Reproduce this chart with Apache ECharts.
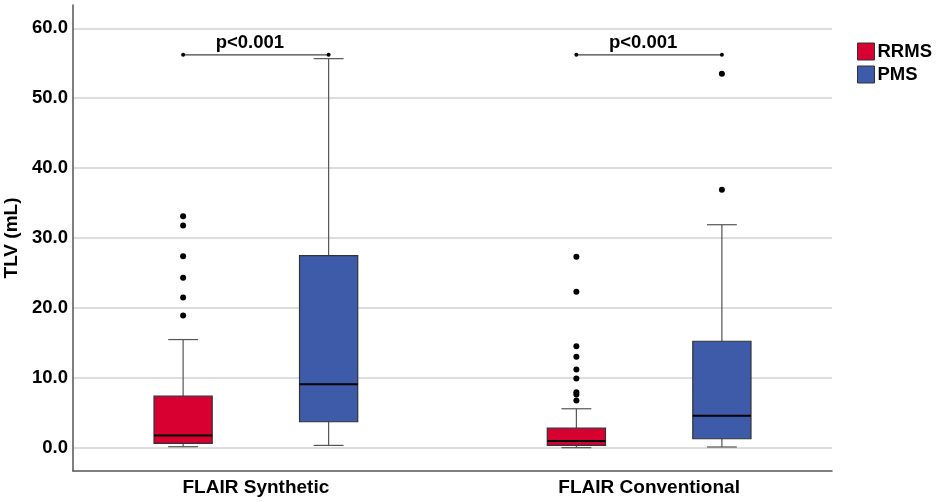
<!DOCTYPE html>
<html>
<head>
<meta charset="utf-8">
<script src="https://cdn.jsdelivr.net/npm/echarts@6/dist/echarts.min.js"></script>
<style>
  html, body { margin: 0; padding: 0; background: #fff; }
  #main { width: 936px; height: 502px; }
</style>
</head>
<body>
<div id="main"></div>
<script>
// categories and groups
var categories = ['FLAIR Synthetic', 'FLAIR Conventional'];
var groups = ['RRMS', 'PMS'];

// box stats per category: [lowerWhisker, q1, median, q3, upperWhisker]
var rrmsBoxes = [
    [0.14, 0.61, 1.76, 7.37, 15.47],
    [0.0, 0.33, 0.95, 2.8, 5.57]
];
var pmsBoxes = [
    [0.33, 3.71, 9.09, 27.47, 55.66],
    [0.1, 1.28, 4.57, 15.23, 31.9]
];

// outliers per category
var rrmsOutliers = [
    [33.1, 31.8, 27.4, 24.3, 21.5, 18.9],
    [27.3, 22.3, 14.5, 13.0, 11.2, 9.9, 7.95, 7.6, 6.76]
];
var pmsOutliers = [
    [],
    [53.5, 36.9]
];

// significance brackets
var bracketY = [56.2, 56.2];
var pLabels = ['p<0.001', 'p<0.001'];

var yTicks = [0, 10, 20, 30, 40, 50, 60];

var colors = { RRMS: '#d70030', PMS: '#3e5ba9' };
var groupOffset = 0.185;   // distance of each group from category centre
var boxWidth = 0.148;
var capWidth = 0.076;

var myChart = echarts.init(document.getElementById('main'));

function boxRenderer(offset, color) {
    return function (params, api) {
        var x = api.value(0) + offset;
        var pLo = api.coord([x, api.value(1)]);
        var pQ1 = api.coord([x, api.value(2)]);
        var pMed = api.coord([x, api.value(3)]);
        var pQ3 = api.coord([x, api.value(4)]);
        var pHi = api.coord([x, api.value(5)]);
        var halfBox = api.size([boxWidth, 0])[0] / 2;
        var halfCap = api.size([capWidth, 0])[0] / 2;
        var cx = pLo[0];
        var whisker = { stroke: '#555', lineWidth: 1.2 };
        return {
            type: 'group',
            children: [
                { type: 'line', shape: { x1: cx, y1: pHi[1], x2: cx, y2: pQ3[1] }, style: whisker },
                { type: 'line', shape: { x1: cx, y1: pQ1[1], x2: cx, y2: pLo[1] }, style: whisker },
                { type: 'line', shape: { x1: cx - halfCap, y1: pHi[1], x2: cx + halfCap, y2: pHi[1] }, style: whisker },
                { type: 'line', shape: { x1: cx - halfCap, y1: pLo[1], x2: cx + halfCap, y2: pLo[1] }, style: whisker },
                {
                    type: 'rect',
                    shape: { x: cx - halfBox, y: pQ3[1], width: halfBox * 2, height: pQ1[1] - pQ3[1] },
                    style: { fill: color, stroke: '#333', lineWidth: 1.2 }
                },
                {
                    type: 'line',
                    shape: { x1: cx - halfBox, y1: pMed[1], x2: cx + halfBox, y2: pMed[1] },
                    style: { stroke: '#000', lineWidth: 2 }
                }
            ]
        };
    };
}

function boxData(boxes) {
    return boxes.map(function (b, i) {
        return [i].concat(b);
    });
}

function outlierData(list, offset) {
    var out = [];
    list.forEach(function (vals, i) {
        vals.forEach(function (v) {
            out.push([i + offset, v]);
        });
    });
    return out;
}

var bracketData = bracketY.map(function (y, i) {
    return [i, y, pLabels[i]];
});

var option = {
    animation: false,
    grid: { left: 73, right: 104, top: 5, bottom: 31, containLabel: false, outerBoundsMode: 'none' },
    legend: {
        orient: 'vertical',
        left: 857,
        top: 42,
        padding: 0,
        itemWidth: 17,
        itemHeight: 17,
        itemGap: 4,
        data: [
            { name: 'RRMS', icon: 'rect' },
            { name: 'PMS', icon: 'rect' }
        ],
        itemStyle: { borderColor: '#333', borderWidth: 1 },
        textStyle: {
            fontFamily: 'Liberation Sans',
            fontWeight: 'bold',
            fontSize: 18.5,
            color: '#000',
            padding: [0, 0, 0, -2]
        }
    },
    xAxis: {
        type: 'value',
        min: -0.465,
        max: 1.465,
        splitLine: { show: false },
        axisTick: { show: false },
        axisLine: { onZero: false, lineStyle: { color: '#555', width: 1.5 } },
        axisLabel: {
            customValues: [0, 1],
            formatter: function (v) { return categories[Math.round(v)]; },
            margin: 7,
            fontFamily: 'Liberation Sans',
            fontWeight: 'bold',
            fontSize: 19,
            color: '#000'
        }
    },
    yAxis: {
        type: 'value',
        min: -10 / 3,
        max: 190 / 3,
        name: 'TLV (mL)',
        nameLocation: 'middle',
        nameGap: 46,
        nameTextStyle: {
            fontFamily: 'Liberation Sans',
            fontWeight: 'bold',
            fontSize: 19,
            color: '#000'
        },
        axisLine: { show: true, onZero: false, lineStyle: { color: '#555', width: 1.5 } },
        axisTick: { show: false, customValues: yTicks },
        splitLine: { show: true, lineStyle: { color: '#d2d2d2', width: 1.5 } },
        axisLabel: {
            customValues: yTicks,
            formatter: function (v) { return v.toFixed(1); },
            margin: 5,
            fontFamily: 'Liberation Sans',
            fontWeight: 'bold',
            fontSize: 18.5,
            color: '#000'
        }
    },
    series: [
        {
            name: 'RRMS',
            type: 'custom',
            itemStyle: { color: colors.RRMS },
            renderItem: boxRenderer(-groupOffset, colors.RRMS),
            encode: { x: 0, y: [1, 2, 3, 4, 5] },
            data: boxData(rrmsBoxes),
            z: 3
        },
        {
            name: 'PMS',
            type: 'custom',
            itemStyle: { color: colors.PMS },
            renderItem: boxRenderer(groupOffset, colors.PMS),
            encode: { x: 0, y: [1, 2, 3, 4, 5] },
            data: boxData(pmsBoxes),
            z: 3
        },
        {
            name: 'RRMS outliers',
            type: 'scatter',
            symbol: 'circle',
            symbolSize: 6,
            itemStyle: { color: '#000', opacity: 1 },
            data: outlierData(rrmsOutliers, -groupOffset),
            z: 4
        },
        {
            name: 'PMS outliers',
            type: 'scatter',
            symbol: 'circle',
            symbolSize: 6,
            itemStyle: { color: '#000', opacity: 1 },
            data: outlierData(pmsOutliers, groupOffset),
            z: 4
        },
        {
            name: 'brackets',
            type: 'custom',
            encode: { x: 0, y: 1 },
            data: bracketData,
            renderItem: function (params, api) {
                var c = api.value(0);
                var y = api.value(1);
                var p0 = api.coord([c - groupOffset, y]);
                var p1 = api.coord([c + groupOffset, y]);
                var label = pLabels[params.dataIndex];
                return {
                    type: 'group',
                    children: [
                        { type: 'line', shape: { x1: p0[0], y1: p0[1], x2: p1[0], y2: p1[1] }, style: { stroke: '#444', lineWidth: 1.2 } },
                        { type: 'circle', shape: { cx: p0[0], cy: p0[1], r: 2 }, style: { fill: '#000' } },
                        { type: 'circle', shape: { cx: p1[0], cy: p1[1], r: 2 }, style: { fill: '#000' } },
                        {
                            type: 'text',
                            style: {
                                x: (p0[0] + p1[0]) / 2 - 6,
                                y: p0[1] - 2,
                                text: label,
                                textAlign: 'center',
                                textVerticalAlign: 'bottom',
                                fontFamily: 'Liberation Sans',
                                fontWeight: 'bold',
                                fontSize: 18.5,
                                fill: '#000'
                            }
                        }
                    ]
                };
            },
            z: 5
        }
    ]
};

myChart.setOption(option);
</script>
</body>
</html>
